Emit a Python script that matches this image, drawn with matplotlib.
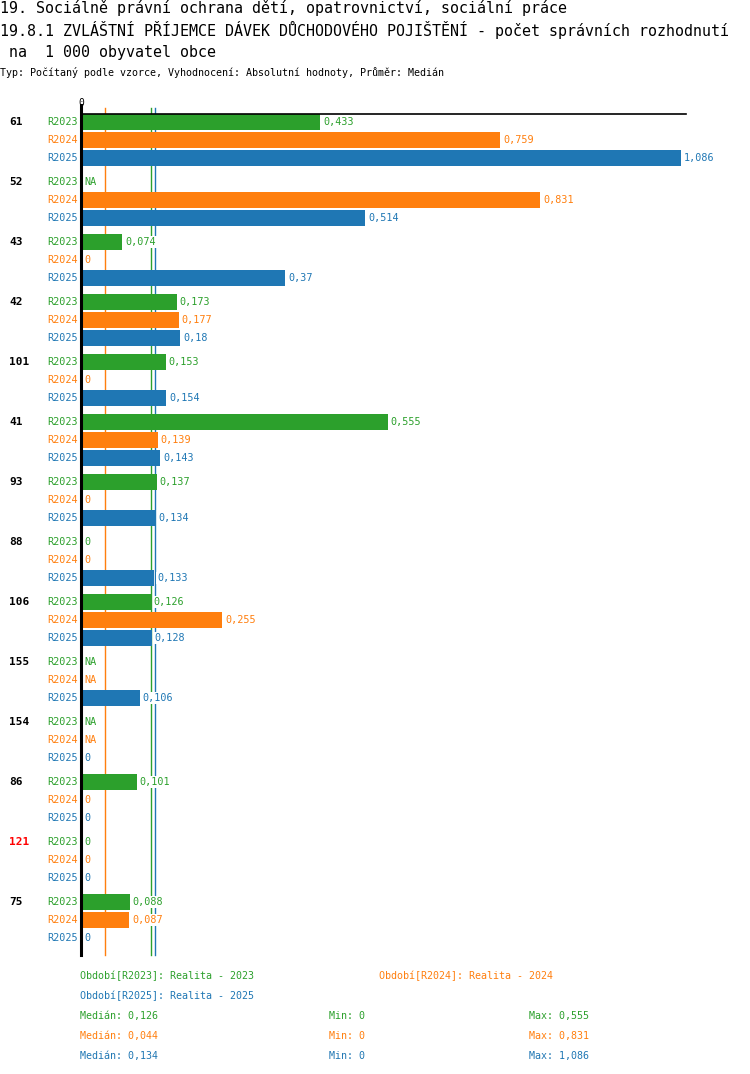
import matplotlib
matplotlib.use("Agg")
import matplotlib.pyplot as plt
import numpy as np

groups = ["61", "52", "43", "42", "101", "41", "93", "88", "106", "155", "154", "86", "121", "75"]
group_colors = ["black"] * 12 + ["#ff0000", "black"]
series = ["R2023", "R2024", "R2025"]
colors = ["#2ca02c", "#ff7f0e", "#1f77b4"]
nan = None
r2023 = [0.433, nan, 0.074, 0.173, 0.153, 0.555, 0.137, 0, 0.126, nan, nan, 0.101, 0, 0.088]
r2024 = [0.759, 0.831, 0, 0.177, 0, 0.139, 0, 0, 0.255, nan, nan, 0, 0, 0.087]
r2025 = [1.086, 0.514, 0.37, 0.18, 0.154, 0.143, 0.134, 0.133, 0.128, 0.106, 0, 0, 0, 0]
medians = [0.126, 0.044, 0.134]
mins = [0, 0, 0]
maxs = [0.555, 0.831, 1.086]
legend_labels = ["Období[R2023]: Realita - 2023", "Období[R2024]: Realita - 2024",
                 "Období[R2025]: Realita - 2025"]
title1 = "19. Sociálně právní ochrana dětí, opatrovnictví, sociální práce"
title2 = "19.8.1 ZVLÁŠTNÍ PŘÍJEMCE DÁVEK DŮCHODOVÉHO POJIŠTĚNÍ - počet správních rozhodnutí"
title3 = " na  1 000 obyvatel obce"
subtitle = "Typ: Počítaný podle vzorce, Vyhodnocení: Absolutní hodnoty, Průměr: Medián"

W, H = 750, 1074
fig = plt.figure(figsize=(W / 100, H / 100), dpi=100)
ax = fig.add_axes([0, 0, 1, 1])
ax.set_axis_off()
# pixel-like coordinates: x in data units, y in pixel rows
scale = 600 / 1.086
x0px = 81
ax.set_xlim(-x0px / scale, (W - x0px) / scale)
ax.set_ylim(H, 0)

mono = "DejaVu Sans Mono"
def fmt(v):
    if v is None:
        return "NA"
    if v == 0:
        return "0"
    return ("%g" % v).replace(".", ",")

data = [r2023, r2024, r2025]
row_h = 18
grp_h = 60
y_first = 122
bar_h = 16

px = 1 / scale
for g, gname in enumerate(groups):
    for s in range(3):
        y = y_first + g * grp_h + s * row_h
        v = data[s][g]
        if s == 0:
            ax.text(-72 * px, y, gname, fontsize=8, fontweight="bold", color=group_colors[g],
                    family=mono, va="center", ha="left")
        ax.text(-3 * px, y, series[s], fontsize=7.3, color=colors[s], family=mono,
                va="center", ha="right")
        val = 0 if v is None else v
        if val > 0:
            ax.barh(y, val, height=bar_h, left=0, color=colors[s], edgecolor="none", zorder=3)
        ax.text(val + 3 * px, y, fmt(v), fontsize=7.3, color=colors[s], family=mono,
                va="center", ha="left", zorder=5,
                bbox=dict(boxstyle="square,pad=0.1", fc="white", ec="none"))

top_y = 108
bot_y = 955
for m, c in zip(medians, colors):
    ax.plot([m, m], [top_y, bot_y], color=c, lw=1, zorder=2)
ax.plot([0, 0], [top_y - 3, bot_y], color="black", lw=2.2, zorder=6)
ax.plot([0, 605 * px], [114, 114], color="black", lw=1.2, zorder=6)
ax.text(0, 103, "0", fontsize=7, family=mono, ha="center", va="center")

ax.text(-x0px * px, 8, title1, fontsize=10.8, family=mono, va="center", ha="left")
ax.text(-x0px * px, 30, title2, fontsize=10.8, family=mono, va="center", ha="left")
ax.text(-x0px * px, 52, title3, fontsize=10.8, family=mono, va="center", ha="left")
ax.text(-x0px * px, 73, subtitle, fontsize=7.2, family=mono, va="center", ha="left")

lx = 80
ax.text((lx - x0px) * px, 976, legend_labels[0], fontsize=7.2, family=mono, color=colors[0], va="center")
ax.text((379 - x0px) * px, 976, legend_labels[1], fontsize=7.2, family=mono, color=colors[1], va="center")
ax.text((lx - x0px) * px, 996, legend_labels[2], fontsize=7.2, family=mono, color=colors[2], va="center")
for i in range(3):
    y = 1016 + 20 * i
    ax.text((lx - x0px) * px, y, "Medián: " + fmt(medians[i]), fontsize=7.2, family=mono, color=colors[i], va="center")
    ax.text((329 - x0px) * px, y, "Min: " + fmt(mins[i]), fontsize=7.2, family=mono, color=colors[i], va="center")
    ax.text((529 - x0px) * px, y, "Max: " + fmt(maxs[i]), fontsize=7.2, family=mono, color=colors[i], va="center")

fig.savefig("out.png", dpi=100, facecolor="white")
